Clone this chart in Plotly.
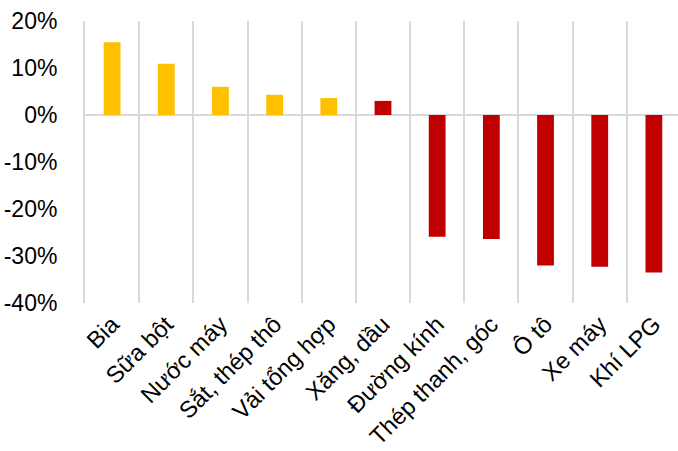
import plotly.graph_objects as go

# Tăng trưởng sản lượng một số sản phẩm công nghiệp (%)
categories = ["Bia", "Sữa bột", "Nước máy", "Sắt, thép thô", "Vải tổng hợp",
              "Xăng, dầu", "Đường kính", "Thép thanh, góc", "Ô tô", "Xe máy", "Khí LPG"]
growth_pct = [15.5, 10.9, 6.0, 4.3, 3.6, 3.0, -25.9, -26.4, -32.0, -32.3, -33.5]
bar_colors = ["#FFC000"] * 5 + ["#C00000"] * 6

y_ticks = [-40, -30, -20, -10, 0, 10, 20]
y_tick_labels = ["-40%", "-30%", "-20%", "-10%", "0%", "10%", "20%"]

fig = go.Figure(
    go.Bar(
        x=categories,
        y=growth_pct,
        marker=dict(color=bar_colors, line=dict(width=0)),
        width=0.31,
    )
)

font_family = "Liberation Sans, Arial, sans-serif"

fig.update_layout(
    width=678,
    height=451,
    margin=dict(l=85, r=0, t=21, b=148),
    paper_bgcolor="white",
    plot_bgcolor="white",
    showlegend=False,
    font=dict(family=font_family, size=23, color="#000000"),
    xaxis=dict(
        range=[-0.5, 10.445],
        tickangle=-45,
        showgrid=True,
        gridcolor="#D9D9D9",
        gridwidth=2,
        tickson="boundaries",
        ticks="",
        zeroline=False,
        showline=False,
        automargin=False,
        ticklabelstandoff=2,
        tickfont=dict(size=23.5, color="#000000"),
    ),
    yaxis=dict(
        range=[-40, 20],
        tickmode="array",
        tickvals=y_ticks,
        ticktext=y_tick_labels,
        showgrid=False,
        zeroline=True,
        zerolinecolor="#D9D9D9",
        zerolinewidth=2,
        showline=True,
        linecolor="#D9D9D9",
        linewidth=2,
        ticks="",
        automargin=False,
        ticklabelstandoff=21,
        tickfont=dict(size=23, color="#000000"),
    ),
)

fig.write_html("out.html")
